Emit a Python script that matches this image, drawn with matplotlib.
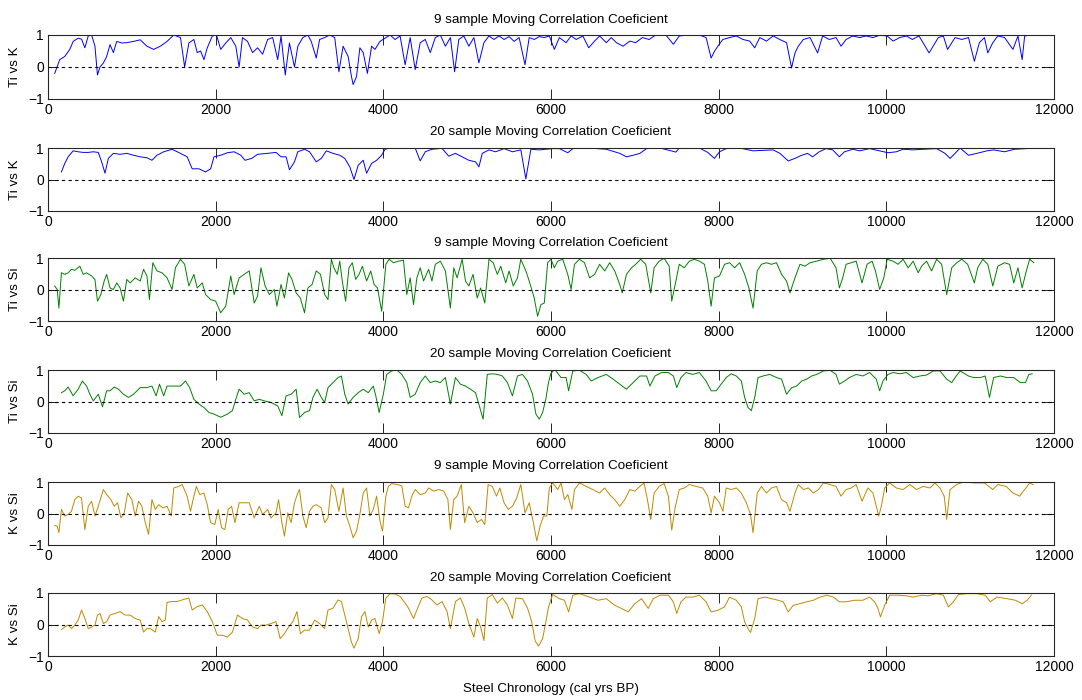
import matplotlib
matplotlib.use("Agg")
import matplotlib.pyplot as plt
import numpy as np

plt.rcParams["font.family"] = ["Liberation Sans", "DejaVu Sans"]

# moving correlation coefficients, (cal yrs BP, r)
ti_k_9 = [
    (80, -0.2), (140, 0.23), (200, 0.33), (260, 0.55), (300, 0.8), (360, 0.9), (400, 0.87), (440, 0.6),
    (480, 0.97), (520, 1.0), (560, 0.65), (590, -0.25), (620, 0.0), (660, 0.12), (700, 0.33), (740, 0.7),
    (780, 0.45), (820, 0.8), (880, 0.75), (940, 0.76), (1020, 0.8), (1100, 0.85), (1180, 0.65), (1260, 0.55),
    (1340, 0.65), (1420, 0.8), (1500, 1.0), (1580, 0.92), (1630, 0.0), (1680, 0.75), (1740, 0.86), (1780, 0.45),
    (1820, 0.5), (1860, 0.23), (1900, 0.6), (1960, 0.97), (2010, 1.0), (2060, 0.55), (2120, 0.75), (2180, 0.92),
    (2240, 0.65), (2280, 0.0), (2320, 0.92), (2380, 0.8), (2440, 0.45), (2500, 0.6), (2560, 0.4), (2620, 0.86),
    (2680, 0.92), (2740, 0.23), (2780, 0.97), (2830, -0.25), (2880, 0.75), (2940, 0.0), (2980, 0.65), (3040, 0.92),
    (3100, 1.0), (3140, 0.8), (3200, 0.28), (3240, 0.86), (3300, 0.92), (3360, 1.0), (3420, 0.92), (3470, -0.15),
    (3520, 0.65), (3580, 0.33), (3620, -0.3), (3640, -0.55), (3680, -0.3), (3720, 0.6), (3760, 0.45), (3810, -0.2),
    (3860, 0.65), (3900, 0.55), (3960, 0.8), (4020, 0.9), (4080, 1.0), (4140, 0.86), (4200, 0.97), (4260, 0.07),
    (4320, 0.92), (4380, -0.08), (4440, 0.76), (4500, 0.86), (4560, 0.45), (4620, 0.92), (4680, 1.0), (4740, 0.65),
    (4800, 0.92), (4850, -0.15), (4900, 0.86), (4960, 0.97), (5020, 0.65), (5080, 0.92), (5140, 0.13), (5200, 0.76),
    (5260, 0.97), (5320, 0.86), (5380, 0.97), (5440, 0.86), (5500, 0.95), (5560, 0.8), (5620, 0.92), (5690, 0.07),
    (5740, 0.92), (5800, 0.86), (5860, 0.95), (5920, 0.92), (5980, 0.97), (6040, 0.55), (6100, 0.92), (6180, 0.76),
    (6240, 0.97), (6300, 0.86), (6380, 0.97), (6450, 0.6), (6520, 0.81), (6580, 0.97), (6660, 0.76), (6720, 0.92),
    (6780, 0.76), (6860, 0.65), (6940, 0.81), (7010, 0.76), (7090, 0.92), (7170, 0.86), (7250, 1.0), (7370, 1.0),
    (7460, 0.71), (7530, 0.97), (7650, 1.0), (7770, 1.0), (7850, 0.92), (7910, 0.28), (7950, 0.49), (7990, 0.65),
    (8050, 0.86), (8130, 0.92), (8210, 0.97), (8290, 0.86), (8370, 0.81), (8430, 0.6), (8490, 0.92), (8570, 0.81),
    (8650, 0.97), (8730, 0.86), (8810, 0.76), (8870, -0.03), (8910, 0.44), (8950, 0.65), (9010, 0.86), (9090, 0.92),
    (9180, 0.44), (9240, 0.97), (9320, 0.86), (9400, 0.92), (9460, 0.65), (9520, 0.86), (9600, 0.97), (9680, 0.92),
    (9760, 0.97), (9840, 0.92), (9920, 0.99), (10010, 0.97), (10080, 0.81), (10160, 0.92), (10240, 0.97),
    (10310, 0.86), (10390, 0.97), (10510, 0.44), (10620, 0.92), (10680, 0.97), (10730, 0.55), (10820, 0.92),
    (10900, 0.86), (10980, 0.92), (11050, 0.18), (11110, 0.76), (11170, 0.92), (11210, 0.44), (11270, 0.76),
    (11330, 0.97), (11410, 0.92), (11510, 0.55), (11570, 0.97), (11620, 0.23), (11650, 0.97), (11730, 1.0),
]

ti_k_20 = [
    (160, 0.24), (200, 0.51), (240, 0.72), (300, 0.91), (360, 0.88), (420, 0.86), (480, 0.86), (540, 0.88),
    (600, 0.86), (640, 0.56), (680, 0.2), (720, 0.67), (780, 0.83), (860, 0.8), (940, 0.83), (1020, 0.77),
    (1100, 0.72), (1180, 0.69), (1240, 0.61), (1300, 0.77), (1380, 0.88), (1480, 0.96), (1580, 0.83), (1660, 0.72),
    (1720, 0.34), (1800, 0.34), (1880, 0.24), (1940, 0.34), (1980, 0.72), (2060, 0.77), (2140, 0.85), (2220, 0.88),
    (2300, 0.77), (2350, 0.61), (2430, 0.67), (2500, 0.8), (2620, 0.83), (2720, 0.86), (2780, 0.72), (2840, 0.72),
    (2880, 0.31), (2940, 0.56), (2980, 0.88), (3060, 0.96), (3120, 0.88), (3160, 0.72), (3200, 0.56), (3260, 0.67),
    (3320, 0.91), (3400, 0.83), (3480, 0.77), (3540, 0.67), (3600, 0.4), (3650, 0.0), (3700, 0.45), (3760, 0.61),
    (3800, 0.2), (3860, 0.51), (3920, 0.61), (3980, 0.77), (4020, 0.96), (4080, 1.0), (4200, 1.0), (4380, 1.0),
    (4440, 0.59), (4500, 0.88), (4580, 0.96), (4700, 0.99), (4780, 0.74), (4860, 0.83), (4940, 0.72), (5020, 0.61),
    (5100, 0.56), (5140, 0.4), (5180, 0.83), (5260, 0.94), (5340, 0.88), (5440, 0.98), (5540, 0.88), (5640, 0.94),
    (5700, 0.02), (5760, 0.96), (5860, 0.94), (5940, 0.96), (6020, 0.98), (6100, 0.98), (6200, 0.85), (6260, 0.98),
    (6440, 1.0), (6660, 0.96), (6820, 0.83), (6900, 0.72), (6980, 0.77), (7060, 0.83), (7140, 0.98), (7300, 1.0),
    (7490, 0.87), (7530, 1.0), (7770, 1.0), (7870, 0.86), (7950, 0.67), (8010, 0.88), (8090, 0.98), (8250, 1.0),
    (8410, 0.91), (8650, 0.94), (8730, 0.83), (8830, 0.59), (8910, 0.67), (8990, 0.77), (9060, 0.83), (9120, 0.72),
    (9200, 0.88), (9280, 0.98), (9360, 0.94), (9440, 0.72), (9500, 0.88), (9600, 0.96), (9680, 0.91), (9800, 0.98),
    (9920, 0.91), (10020, 0.85), (10120, 0.88), (10200, 0.96), (10320, 0.94), (10440, 0.96), (10600, 0.98),
    (10700, 0.83), (10760, 0.67), (10820, 0.83), (10880, 1.0), (10980, 0.77), (11080, 0.83), (11200, 0.91),
    (11280, 0.94), (11410, 0.88), (11530, 0.96), (11650, 0.98), (11730, 0.99),
]

ti_si_9 = [
    (80, 0.11), (110, 0.0), (130, -0.59), (160, 0.53), (200, 0.48), (240, 0.53), (280, 0.64), (320, 0.61),
    (380, 0.74), (420, 0.48), (460, 0.53), (520, 0.43), (560, 0.32), (590, -0.37), (630, -0.16), (670, 0.27),
    (700, 0.48), (740, 0.05), (780, 0.0), (820, 0.21), (860, 0.05), (900, -0.37), (940, 0.32), (980, 0.21),
    (1040, 0.37), (1100, 0.27), (1140, 0.64), (1180, 0.43), (1210, -0.32), (1250, 0.85), (1300, 0.59), (1360, 0.53),
    (1420, 0.37), (1480, 0.0), (1520, 0.69), (1580, 0.96), (1630, 0.8), (1680, 0.11), (1740, 0.48), (1780, 0.05),
    (1840, 0.21), (1880, -0.16), (1940, -0.32), (2000, -0.37), (2060, -0.74), (2120, -0.53), (2180, 0.43),
    (2220, -0.16), (2280, 0.37), (2340, 0.48), (2400, 0.59), (2460, -0.43), (2500, -0.21), (2540, 0.69),
    (2590, 0.11), (2640, -0.16), (2700, 0.0), (2730, -0.53), (2780, 0.16), (2820, -0.27), (2870, 0.53), (2910, 0.32),
    (2960, -0.11), (3010, -0.27), (3060, -0.74), (3100, 0.05), (3150, 0.16), (3200, 0.59), (3250, 0.48),
    (3300, -0.16), (3340, -0.32), (3380, 0.96), (3410, 0.69), (3450, 0.48), (3480, 0.9), (3510, 0.27), (3550, -0.37),
    (3590, 0.69), (3630, 0.85), (3670, 0.32), (3710, 0.48), (3750, 0.74), (3800, 0.27), (3850, 0.59), (3890, 0.16),
    (3930, 0.05), (3980, -0.69), (4030, 0.8), (4070, 0.96), (4120, 0.85), (4180, 0.9), (4240, 0.93), (4280, -0.16),
    (4320, 0.37), (4360, -0.48), (4400, 0.37), (4440, 0.69), (4480, 0.27), (4540, 0.64), (4580, 0.27), (4620, 0.8),
    (4680, 0.9), (4740, 0.59), (4800, -0.59), (4840, 0.69), (4880, 0.37), (4940, 0.96), (4980, 0.27), (5020, 0.11),
    (5070, 0.48), (5120, -0.27), (5160, 0.05), (5210, -0.43), (5260, 0.96), (5310, 0.85), (5360, 0.48), (5400, 0.74),
    (5460, 0.21), (5500, 0.59), (5550, 0.11), (5600, 0.37), (5640, 0.96), (5700, 0.59), (5740, 0.27), (5800, -0.27),
    (5840, -0.85), (5880, -0.48), (5920, -0.43), (5960, 0.85), (6000, 0.96), (6040, 0.69), (6080, 0.9), (6140, 0.96),
    (6200, 0.48), (6240, 0.0), (6280, 0.8), (6340, 0.96), (6400, 0.85), (6460, 0.37), (6520, 0.48), (6580, 0.8),
    (6640, 0.59), (6700, 0.85), (6760, 0.59), (6820, 0.16), (6850, -0.11), (6900, 0.48), (6960, 0.69), (7010, 0.8),
    (7070, 0.96), (7130, 0.8), (7190, -0.11), (7230, 0.69), (7290, 0.9), (7350, 0.99), (7410, 0.74), (7440, -0.37),
    (7490, 0.27), (7530, 0.8), (7590, 0.69), (7650, 0.9), (7710, 0.96), (7770, 0.9), (7830, 0.8), (7870, 0.27),
    (7910, -0.53), (7950, 0.37), (8010, 0.43), (8070, 0.8), (8130, 0.85), (8190, 0.69), (8250, 0.85), (8310, 0.48),
    (8360, 0.05), (8410, -0.59), (8460, 0.59), (8510, 0.8), (8570, 0.85), (8630, 0.8), (8690, 0.85), (8750, 0.48),
    (8810, 0.27), (8850, -0.11), (8910, 0.37), (8970, 0.8), (9030, 0.74), (9090, 0.85), (9170, 0.9), (9250, 0.96),
    (9330, 0.99), (9400, 0.69), (9440, 0.05), (9480, 0.37), (9520, 0.8), (9580, 0.85), (9640, 0.9), (9710, 0.21),
    (9770, 0.8), (9830, 0.9), (9870, 0.59), (9920, 0.0), (9970, 0.37), (10010, 0.96), (10080, 0.9), (10140, 0.8),
    (10200, 0.96), (10260, 0.69), (10320, 0.9), (10380, 0.53), (10420, 0.74), (10480, 0.9), (10540, 0.59),
    (10600, 0.96), (10660, 0.8), (10720, -0.16), (10780, 0.69), (10840, 0.85), (10900, 0.96), (10970, 0.8),
    (11050, 0.21), (11090, 0.69), (11150, 0.96), (11210, 0.8), (11270, 0.11), (11330, 0.74), (11410, 0.85),
    (11470, 0.8), (11520, 0.21), (11570, 0.69), (11620, 0.05), (11670, 0.59), (11710, 0.96), (11760, 0.85),
]

ti_si_20 = [
    (160, 0.28), (200, 0.34), (240, 0.46), (300, 0.18), (360, 0.39), (410, 0.65), (460, 0.49), (500, 0.23),
    (540, 0.02), (600, 0.23), (650, -0.17), (700, 0.34), (740, 0.34), (790, 0.46), (840, 0.39), (900, 0.23),
    (960, 0.13), (1020, 0.23), (1100, 0.44), (1180, 0.44), (1240, 0.49), (1290, 0.18), (1330, 0.55), (1380, 0.18),
    (1420, 0.49), (1500, 0.49), (1580, 0.49), (1640, 0.65), (1690, 0.44), (1740, 0.07), (1800, -0.08),
    (1860, -0.19), (1920, -0.35), (1980, -0.4), (2060, -0.5), (2140, -0.4), (2200, -0.29), (2240, 0.07),
    (2280, 0.39), (2340, 0.23), (2400, 0.28), (2460, 0.02), (2520, 0.07), (2580, 0.02), (2660, -0.03),
    (2740, -0.14), (2790, -0.45), (2840, 0.18), (2900, 0.23), (2960, 0.39), (3000, -0.51), (3060, -0.35),
    (3120, -0.29), (3160, 0.13), (3210, 0.39), (3260, 0.13), (3300, -0.03), (3340, 0.44), (3400, 0.6), (3460, 0.76),
    (3500, 0.81), (3540, 0.23), (3580, -0.08), (3640, 0.13), (3700, 0.28), (3760, 0.39), (3820, 0.28), (3880, 0.49),
    (3910, 0.18), (3950, -0.35), (4000, 0.23), (4040, 0.86), (4100, 0.97), (4160, 1.0), (4220, 0.86), (4280, 0.6),
    (4320, 0.13), (4380, 0.23), (4440, 0.6), (4500, 0.81), (4560, 0.6), (4620, 0.65), (4680, 0.6), (4740, 0.76),
    (4800, -0.08), (4860, 0.76), (4920, 0.55), (4980, 0.49), (5040, 0.39), (5100, 0.28), (5150, -0.19),
    (5190, -0.56), (5240, 0.86), (5300, 0.88), (5360, 0.86), (5420, 0.81), (5480, 0.6), (5540, 0.18), (5600, 0.81),
    (5660, 0.86), (5720, 0.65), (5780, 0.23), (5820, -0.4), (5860, -0.56), (5900, -0.35), (5940, 0.1), (5970, 0.6),
    (6000, 0.9), (6040, 1.0), (6060, 0.97), (6120, 0.76), (6180, 0.76), (6210, 0.34), (6260, 0.97), (6340, 0.99),
    (6420, 0.86), (6480, 0.65), (6560, 0.76), (6660, 0.86), (6740, 0.71), (6820, 0.55), (6900, 0.39), (6980, 0.6),
    (7060, 0.81), (7140, 0.81), (7180, 0.49), (7240, 0.81), (7320, 0.92), (7400, 0.92), (7460, 0.81), (7500, 0.44),
    (7550, 0.76), (7610, 0.92), (7690, 0.86), (7770, 0.92), (7850, 0.65), (7910, 0.34), (7970, 0.34), (8030, 0.55),
    (8090, 0.76), (8150, 0.88), (8210, 0.81), (8270, 0.65), (8310, 0.13), (8350, -0.19), (8390, -0.29),
    (8430, 0.13), (8470, 0.76), (8530, 0.81), (8610, 0.86), (8690, 0.76), (8750, 0.71), (8810, 0.23), (8870, 0.44),
    (8930, 0.49), (8990, 0.65), (9050, 0.71), (9110, 0.81), (9170, 0.86), (9250, 0.97), (9330, 0.99), (9400, 0.86),
    (9440, 0.55), (9500, 0.65), (9560, 0.76), (9640, 0.86), (9720, 0.81), (9800, 0.92), (9880, 0.71), (9920, 0.34),
    (9960, 0.65), (10020, 0.86), (10080, 0.92), (10160, 0.88), (10240, 0.92), (10320, 0.76), (10400, 0.81),
    (10480, 0.84), (10560, 0.97), (10640, 0.97), (10720, 0.71), (10780, 0.6), (10820, 0.76), (10880, 0.97),
    (10980, 0.81), (11040, 0.76), (11120, 0.76), (11180, 0.81), (11230, 0.13), (11280, 0.76), (11360, 0.81),
    (11440, 0.76), (11520, 0.76), (11600, 0.6), (11660, 0.6), (11700, 0.86), (11740, 0.88),
]

k_si_9 = [
    (80, -0.38), (110, -0.4), (130, -0.61), (160, 0.13), (200, -0.08), (240, -0.03), (280, 0.07), (320, 0.44),
    (360, 0.55), (400, 0.49), (440, -0.51), (480, 0.23), (520, 0.39), (560, -0.08), (600, 0.23), (660, 0.76),
    (700, 0.6), (750, 0.44), (790, 0.23), (830, 0.34), (870, -0.14), (910, 0.02), (950, 0.65), (1000, 0.44),
    (1040, -0.08), (1080, 0.39), (1120, 0.23), (1160, -0.29), (1200, -0.66), (1240, 0.44), (1280, 0.13),
    (1320, 0.28), (1370, 0.18), (1420, 0.23), (1470, -0.08), (1500, 0.81), (1560, 0.86), (1600, 0.92), (1660, 0.55),
    (1700, 0.07), (1740, 0.55), (1770, 0.86), (1810, 0.6), (1860, 0.65), (1900, 0.28), (1940, -0.29), (1990, -0.35),
    (2030, 0.13), (2070, -0.45), (2110, -0.51), (2150, 0.13), (2190, 0.23), (2230, -0.29), (2280, 0.34),
    (2340, 0.34), (2400, 0.34), (2460, -0.14), (2520, 0.23), (2560, -0.03), (2620, 0.13), (2660, -0.14),
    (2720, 0.02), (2750, 0.44), (2790, -0.29), (2820, -0.72), (2860, 0.02), (2900, -0.29), (2940, 0.34),
    (2980, 0.65), (3000, 0.76), (3040, -0.08), (3080, -0.45), (3120, 0.07), (3160, 0.23), (3200, 0.28),
    (3260, 0.18), (3300, -0.29), (3340, -0.14), (3380, 0.92), (3420, 0.76), (3470, 0.07), (3520, 0.81),
    (3560, -0.08), (3600, -0.4), (3640, -0.77), (3680, -0.56), (3720, -0.03), (3760, 0.65), (3800, 0.81),
    (3840, -0.08), (3880, 0.13), (3920, 0.55), (3960, -0.24), (3990, -0.56), (4030, 0.55), (4060, 0.86),
    (4100, 0.95), (4160, 0.92), (4220, 0.88), (4260, 0.23), (4300, 0.18), (4340, 0.55), (4380, 0.76), (4440, 0.6),
    (4500, 0.65), (4540, 0.81), (4600, 0.71), (4660, 0.76), (4720, 0.71), (4770, 0.44), (4800, -0.51), (4840, 0.44),
    (4880, 0.55), (4930, 0.92), (4970, -0.29), (5020, 0.23), (5070, 0.02), (5120, -0.29), (5170, -0.19),
    (5210, -0.35), (5250, 0.92), (5300, 0.86), (5350, 0.55), (5390, 0.81), (5440, 0.34), (5490, 0.13), (5540, 0.23),
    (5590, 0.49), (5640, 0.92), (5690, 0.02), (5740, 0.34), (5790, -0.29), (5830, -0.87), (5870, -0.4),
    (5910, -0.08), (5950, -0.08), (5980, 0.81), (6020, 0.97), (6080, 0.76), (6120, 0.97), (6160, 0.44), (6200, 0.6),
    (6250, 0.13), (6280, 0.76), (6340, 0.97), (6420, 0.86), (6500, 0.76), (6580, 0.65), (6640, 0.81), (6700, 0.6),
    (6760, 0.44), (6820, 0.23), (6880, 0.44), (6940, 0.76), (7000, 0.71), (7060, 0.86), (7110, 0.97), (7150, 0.44),
    (7190, -0.19), (7230, 0.65), (7290, 0.86), (7350, 0.95), (7400, 0.55), (7440, -0.53), (7480, 0.18),
    (7530, 0.76), (7590, 0.81), (7650, 0.92), (7730, 0.86), (7810, 0.81), (7870, 0.55), (7910, 0.02), (7950, 0.55),
    (8010, 0.34), (8050, 0.07), (8090, 0.81), (8150, 0.76), (8210, 0.81), (8270, 0.65), (8330, 0.34), (8380, -0.03),
    (8410, -0.61), (8460, 0.65), (8510, 0.86), (8570, 0.65), (8630, 0.81), (8690, 0.86), (8750, 0.44), (8810, 0.34),
    (8850, 0.07), (8910, 0.65), (8950, 0.92), (9010, 0.76), (9070, 0.81), (9130, 0.65), (9190, 0.76), (9250, 0.97),
    (9330, 0.92), (9400, 0.86), (9460, 0.55), (9520, 0.76), (9580, 0.81), (9640, 0.92), (9710, 0.39), (9780, 0.81),
    (9840, 0.65), (9880, 0.23), (9910, -0.08), (9940, 0.23), (9980, 0.81), (10040, 0.97), (10120, 0.81),
    (10200, 0.76), (10280, 0.92), (10360, 0.76), (10440, 0.86), (10520, 0.81), (10580, 0.97), (10640, 0.81),
    (10690, 0.55), (10720, -0.19), (10760, 0.76), (10840, 0.92), (10920, 1.0), (11050, 0.97), (11170, 0.97),
    (11270, 0.76), (11330, 0.92), (11430, 0.86), (11510, 0.65), (11590, 0.55), (11650, 0.76), (11710, 0.97),
    (11750, 0.92),
]

k_si_20 = [
    (160, -0.16), (200, -0.08), (240, -0.02), (280, -0.13), (320, -0.02), (360, 0.14), (400, 0.46), (440, 0.19),
    (480, -0.13), (520, -0.08), (560, -0.02), (590, 0.3), (620, 0.35), (660, 0.03), (700, 0.09), (740, 0.3),
    (800, 0.35), (860, 0.41), (920, 0.3), (980, 0.3), (1040, 0.19), (1100, 0.14), (1140, -0.24), (1180, -0.13),
    (1220, -0.13), (1280, -0.24), (1320, 0.25), (1360, 0.09), (1400, 0.14), (1420, 0.7), (1480, 0.73), (1540, 0.73),
    (1600, 0.78), (1680, 0.84), (1720, 0.46), (1780, 0.57), (1840, 0.62), (1900, 0.41), (1960, 0.09), (2020, -0.34),
    (2080, -0.34), (2140, -0.4), (2200, -0.24), (2260, 0.3), (2320, 0.19), (2380, 0.14), (2440, -0.08),
    (2500, -0.13), (2540, -0.02), (2600, -0.02), (2660, 0.03), (2720, 0.09), (2770, -0.45), (2820, -0.29),
    (2870, -0.08), (2920, 0.09), (2970, 0.41), (3010, -0.29), (3060, -0.18), (3120, -0.18), (3180, 0.14),
    (3240, 0.03), (3300, -0.13), (3340, 0.46), (3400, 0.52), (3460, 0.78), (3500, 0.73), (3540, 0.3), (3580, -0.13),
    (3620, -0.56), (3650, -0.75), (3700, -0.45), (3740, 0.25), (3780, 0.41), (3820, -0.08), (3860, 0.14),
    (3900, 0.19), (3950, -0.29), (3990, 0.09), (4030, 0.84), (4080, 0.98), (4140, 0.97), (4200, 0.89), (4260, 0.68),
    (4300, 0.52), (4360, 0.19), (4400, 0.46), (4460, 0.84), (4520, 0.89), (4580, 0.78), (4640, 0.62), (4700, 0.73),
    (4760, 0.41), (4800, -0.13), (4860, 0.73), (4920, 0.84), (4970, 0.52), (5020, 0.03), (5080, -0.4), (5120, 0.19),
    (5160, -0.08), (5200, -0.51), (5240, 0.84), (5300, 0.95), (5360, 0.68), (5420, 0.84), (5480, 0.62),
    (5540, 0.19), (5580, 0.84), (5660, 0.82), (5720, 0.52), (5770, 0.09), (5810, -0.51), (5850, -0.69),
    (5900, -0.45), (5940, 0.1), (5970, 0.55), (6000, 0.8), (6020, 0.95), (6100, 0.82), (6160, 0.77), (6210, 0.4),
    (6260, 0.93), (6340, 0.98), (6460, 0.87), (6560, 0.77), (6660, 0.82), (6760, 0.61), (6840, 0.51), (6920, 0.4),
    (7000, 0.66), (7080, 0.82), (7160, 0.51), (7220, 0.82), (7300, 0.93), (7400, 0.93), (7460, 0.72), (7500, 0.35),
    (7550, 0.72), (7610, 0.87), (7690, 0.87), (7770, 0.93), (7850, 0.72), (7910, 0.4), (7990, 0.45), (8070, 0.56),
    (8130, 0.87), (8210, 0.77), (8270, 0.56), (8310, 0.08), (8350, -0.13), (8380, -0.25), (8430, 0.19),
    (8470, 0.82), (8550, 0.87), (8630, 0.82), (8710, 0.77), (8770, 0.72), (8830, 0.4), (8890, 0.61), (8970, 0.66),
    (9050, 0.72), (9130, 0.77), (9210, 0.87), (9290, 0.93), (9370, 0.87), (9440, 0.72), (9520, 0.72), (9620, 0.77),
    (9720, 0.77), (9800, 0.87), (9860, 0.72), (9900, 0.51), (9930, 0.24), (9980, 0.61), (10040, 0.93),
    (10140, 0.93), (10240, 0.91), (10320, 0.87), (10420, 0.93), (10500, 0.91), (10600, 0.98), (10680, 0.93),
    (10740, 0.56), (10800, 0.72), (10860, 0.95), (10960, 0.98), (11080, 0.98), (11180, 0.93), (11240, 0.72),
    (11320, 0.87), (11440, 0.82), (11540, 0.77), (11620, 0.66), (11680, 0.77), (11730, 0.93),
]

series = [ti_k_9, ti_k_20, ti_si_9, ti_si_20, k_si_9, k_si_20]
titles = ["9 sample Moving Correlation Coeficient", "20 sample Moving Correlation Coeficient"] * 3
ylabels = ["Ti vs K", "Ti vs K", "Ti vs Si", "Ti vs Si", "K vs Si", "K vs Si"]
colors = ["#0000ff", "#0000ff", "#008000", "#008000", "#bf8a00", "#bf8a00"]

W, H = 1082, 700
# panel top / bottom in pixels
rows = [(35, 99), (148, 211), (258, 321), (370, 433), (482, 545), (593, 656)]
left_px, right_px = 48, 1054

fig = plt.figure(figsize=(W / 100, H / 100), dpi=100)

for data, title, ylab, col, (top, bot) in zip(series, titles, ylabels, colors, rows):
    ax = fig.add_axes([left_px / W, 1 - bot / H, (right_px - left_px) / W, (bot - top) / H])
    yrs = np.array([d[0] for d in data])
    r = np.array([d[1] for d in data])
    ax.plot(yrs, r, color=col, lw=0.7)
    ax.axhline(0, color="black", lw=0.8, ls=(0, (3, 3)))
    ax.set_xlim(0, 12000)
    ax.set_ylim(-1, 1)
    ax.set_xticks(np.arange(0, 12001, 2000))
    ax.set_yticks([-1, 0, 1])
    ax.tick_params(direction="in", top=True, right=True, length=7, width=0.6,
                   labelsize=10, pad=3, colors="black")
    for s in ax.spines.values():
        s.set_linewidth(0.8)
        s.set_color("#262626")
    ax.set_title(title, fontsize=9.6, pad=9)
    fig.text(15 / W, 1 - (top + bot) / 2 / H, ylab, rotation=90, fontsize=9.6,
             ha="center", va="center")

fig.text((left_px + right_px) / 2 / W, 1 - 689 / H, "Steel Chronology (cal yrs BP)",
         fontsize=9.6, ha="center", va="center")

fig.savefig("out.png", dpi=100)
plt.close(fig)
